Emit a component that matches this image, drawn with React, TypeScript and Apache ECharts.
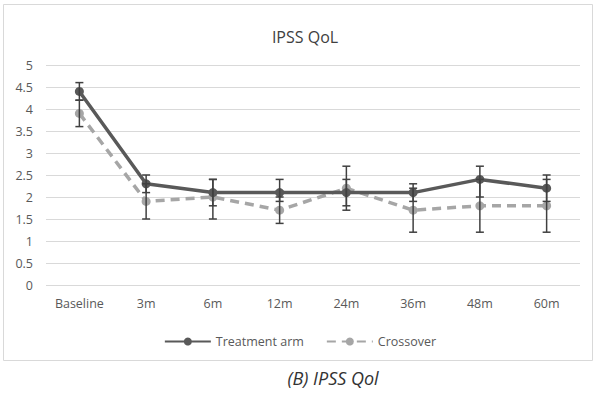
import React, { useEffect, useRef } from "react";
import * as echarts from "echarts";

const categories = ["Baseline", "3m", "6m", "12m", "24m", "36m", "48m", "60m"];
const treatment = [4.4, 2.3, 2.1, 2.1, 2.1, 2.1, 2.4, 2.2];
const crossover = [3.9, 1.9, 2.0, 1.7, 2.2, 1.7, 1.8, 1.8];
const treatmentLow = [4.2, 2.1, 1.8, 1.9, 1.8, 1.9, 2.0, 1.9];
const treatmentHigh = [4.6, 2.5, 2.4, 2.4, 2.4, 2.3, 2.7, 2.5];
const crossoverLow = [3.6, 1.5, 1.5, 1.4, 1.7, 1.2, 1.2, 1.2];
const crossoverHigh = [4.2, 2.3, 2.4, 2.0, 2.7, 2.2, 2.4, 2.4];
const yTicks = [0, 0.5, 1, 1.5, 2, 2.5, 3, 3.5, 4, 4.5, 5];

const FONT = "'Open Sans', sans-serif";

function errorSeries(low: number[], high: number[], z: number) {
  return {
    type: "custom",
    z,
    silent: true,
    data: low.map((l, i) => [i, l, high[i]]),
    encode: { x: 0, y: [1, 2] },
    renderItem: (params: any, api: any) => {
      const x = api.value(0);
      const lo = api.coord([x, api.value(1)]);
      const hi = api.coord([x, api.value(2)]);
      const w = 4;
      const st = { stroke: "#404040", lineWidth: 1.5 };
      return {
        type: "group",
        children: [
          { type: "line", shape: { x1: lo[0], y1: lo[1], x2: hi[0], y2: hi[1] }, style: st },
          { type: "line", shape: { x1: lo[0] - w, y1: lo[1], x2: lo[0] + w, y2: lo[1] }, style: st },
          { type: "line", shape: { x1: hi[0] - w, y1: hi[1], x2: hi[0] + w, y2: hi[1] }, style: st },
        ],
      };
    },
  };
}

export default function App() {
  const ref = useRef<HTMLDivElement>(null);
  useEffect(() => {
    if (!ref.current) return;
    const chart = echarts.init(ref.current, null, { renderer: "svg" });
    chart.setOption({
      animation: false,
      backgroundColor: "#ffffff",
      title: {
        text: "IPSS QoL",
        left: 300,
        top: 24,
        textAlign: "center",
        textStyle: { fontFamily: FONT, fontSize: 16, fontWeight: "normal", color: "#404040" },
      },
      legend: {
        data: ["Treatment arm", "Crossover"],
        left: "center",
        top: 330,
        itemWidth: 46,
        itemHeight: 10,
        itemGap: 22,
        textStyle: { fontFamily: FONT, fontSize: 12.5, color: "#595959" },
      },
      grid: { left: 46, right: 20, top: 65, bottom: 108 },
      xAxis: {
        type: "category",
        data: categories,
        boundaryGap: true,
        axisLine: { show: false },
        axisTick: { show: false },
        axisLabel: { fontFamily: FONT, fontSize: 12.5, color: "#595959", margin: 12 },
      },
      yAxis: {
        type: "value",
        min: yTicks[0],
        max: yTicks[yTicks.length - 1],
        interval: 0.5,
        axisLine: { show: false },
        axisTick: { show: false },
        splitLine: { lineStyle: { color: "#d9d9d9", width: 1 } },
        axisLabel: { fontFamily: FONT, fontSize: 12.5, color: "#595959", margin: 13 },
      },
      graphic: [
        {
          type: "rect",
          shape: { x: 3.5, y: 4.5, width: 589, height: 356 },
          style: { fill: "none", stroke: "#d9d9d9", lineWidth: 1 },
          z: -10,
        },
        {
          type: "text",
          x: 333,
          y: 378,
          style: {
            text: "(B) IPSS Qol",
            fontFamily: FONT,
            fontStyle: "italic",
            fontSize: 18,
            fill: "#333333",
            textAlign: "center",
            textVerticalAlign: "middle",
          },
        },
      ],
      series: [
        {
          name: "Crossover",
          type: "line",
          data: crossover,
          z: 3,
          symbol: "circle",
          symbolSize: 9,
          lineStyle: { color: "#a6a6a6", width: 3.5, type: [9, 6] },
          itemStyle: { color: "#a6a6a6" },
        },
        {
          name: "Treatment arm",
          type: "line",
          data: treatment,
          z: 4,
          symbol: "circle",
          symbolSize: 9,
          lineStyle: { color: "#595959", width: 3.5 },
          itemStyle: { color: "#595959" },
        },
        errorSeries(crossoverLow, crossoverHigh, 5),
        errorSeries(treatmentLow, treatmentHigh, 6),
      ],
    });
    return () => chart.dispose();
  }, []);
  return (
    <div
      ref={ref}
      style={{ position: "fixed", left: 0, top: 0, width: 600, height: 393 }}
    />
  );
}
